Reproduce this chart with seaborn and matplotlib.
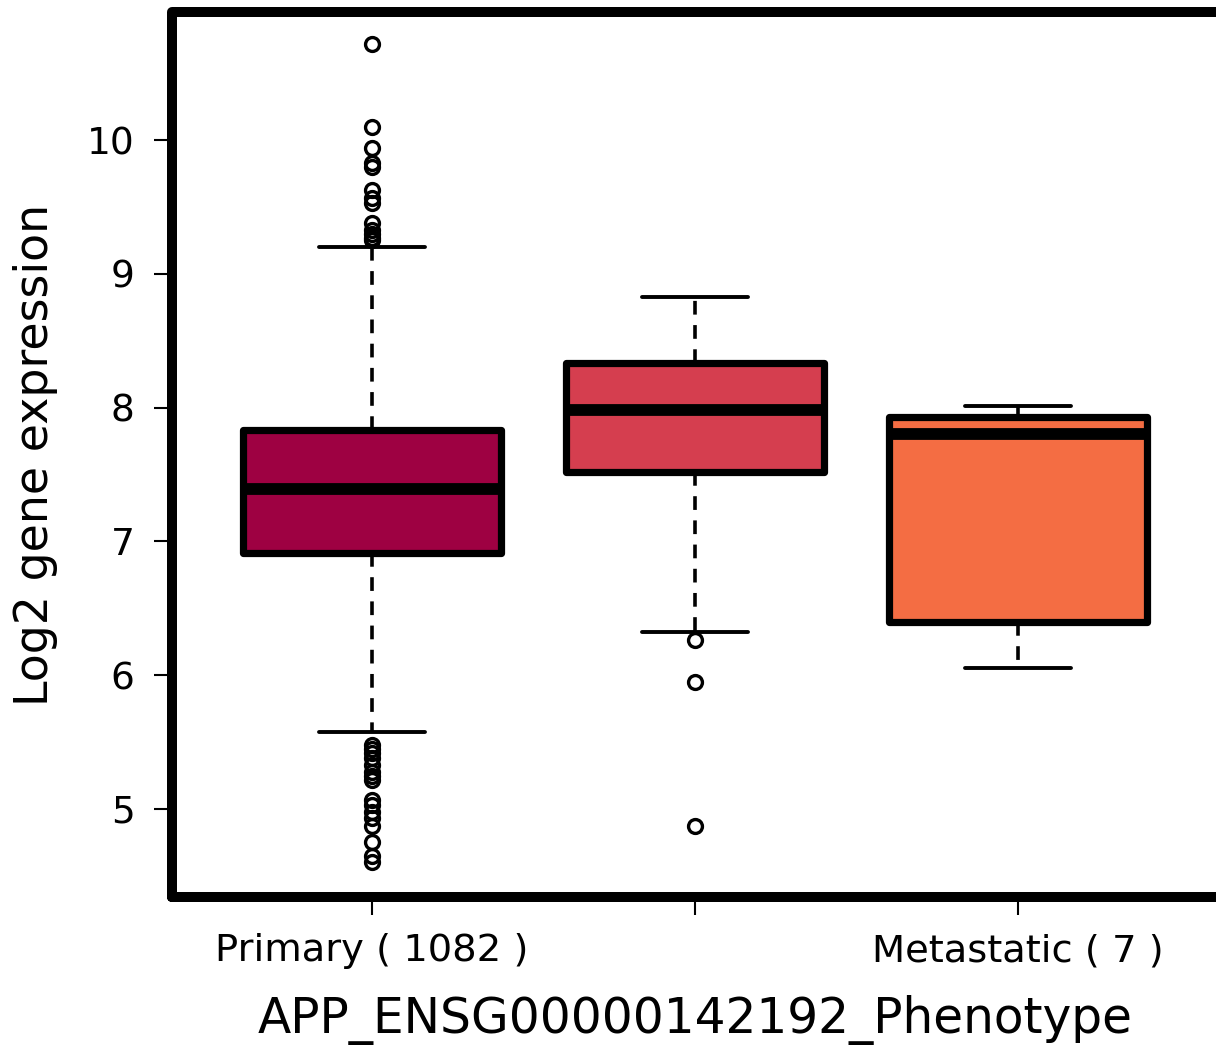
import numpy as np
import pandas as pd
import matplotlib
matplotlib.use("Agg")
import matplotlib.pyplot as plt
from matplotlib.patches import Rectangle
import seaborn as sns

# ---- data ----
categories = ["Primary", "Recurrent", "Metastatic"]
tick_labels = ["Primary ( 1082 )", "", "Metastatic ( 7 )"]
box_colors = ["#9E0142", "#D53E4F", "#F46D43"]

primary_values = [
    4.60, 4.65, 4.75, 4.87, 4.93, 4.98, 5.03, 5.07, 5.22, 5.25, 5.28, 5.33,
    5.38, 5.42, 5.45, 5.48,
    5.575,
    6.20, 6.55, 6.80,
    6.91,
    6.94, 6.97, 7.00, 7.02, 7.05, 7.07, 7.10, 7.12, 7.15, 7.17, 7.20, 7.22,
    7.25, 7.27, 7.30, 7.32, 7.34, 7.36, 7.38,
    7.39,
    7.41, 7.43, 7.45, 7.47, 7.50, 7.52, 7.54, 7.56, 7.58, 7.60, 7.62, 7.64,
    7.66, 7.68, 7.71, 7.74, 7.77, 7.79, 7.81,
    7.83,
    8.05, 8.30, 8.55, 8.75, 8.95, 9.10,
    9.20,
    9.25, 9.27, 9.30, 9.33, 9.38, 9.53, 9.57, 9.63, 9.80, 9.83, 9.94, 10.10,
    10.72,
]
recurrent_values = [
    4.87, 5.95, 6.26, 6.32, 7.20, 7.52, 7.62, 7.72, 7.82, 7.90, 7.98,
    8.05, 8.12, 8.20, 8.27, 8.33, 8.45, 8.55, 8.65, 8.75, 8.83,
]
metastatic_values = [6.05, 6.30, 6.50, 7.80, 7.90, 7.96, 8.01]

y_ticks = [5, 6, 7, 8, 9, 10]
x_title = "APP_ENSG00000142192_Phenotype"
y_title = "Log2 gene expression"

groups = [primary_values, recurrent_values, metastatic_values]
df = pd.DataFrame({
    "Phenotype": np.concatenate([[c] * len(v) for c, v in zip(categories, groups)]),
    "Expression": np.concatenate(groups),
})

# ---- style ----
sns.set_theme(style="white")
plt.rcParams["font.family"] = ["DejaVu Sans"]

fig = plt.figure(figsize=(12.16, 10.47), dpi=100)
W, H = 1216, 1047
left, right, top, bottom = 172, 1218, 12, 897
ax = fig.add_axes([left / W, (H - bottom) / H, (right - left) / W, (bottom - top) / H])

sns.boxplot(
    data=df, x="Phenotype", y="Expression", hue="Phenotype",
    order=categories, hue_order=categories, palette=box_colors,
    saturation=1, legend=False, width=0.8, linecolor="black",
    fliersize=10, ax=ax, capwidths=0.33,
    boxprops=dict(linewidth=5.2, edgecolor="black", joinstyle="round"),
    medianprops=dict(linewidth=8.5, color="black", solid_capstyle="butt"),
    whiskerprops=dict(linewidth=2.6, color="black", linestyle=(0, (3.8, 2.9))),
    capprops=dict(linewidth=2.8, color="black", solid_capstyle="round"),
    flierprops=dict(marker="o", markersize=10, markerfacecolor="none",
                    markeredgecolor="black", markeredgewidth=2.4),
)

ax.set_xlim(-0.62, 2.62)
ax.set_ylim(4.342, 10.957)
ax.set_yticks(y_ticks)
ax.set_yticklabels([str(t) for t in y_ticks])
ax.set_xticks(range(len(categories)))
ax.set_xticklabels(tick_labels)

ax.tick_params(axis="y", which="major", direction="out", length=13, width=1.5,
               color="black", labelsize=27, pad=14, left=True, labelcolor="black")
ax.tick_params(axis="x", which="major", direction="out", length=13, width=1.5,
               color="black", labelsize=27.7, pad=13, bottom=True, labelcolor="black")

for sp in ax.spines.values():
    sp.set_visible(False)
frame = Rectangle((0, 0), 1, 1, transform=ax.transAxes, fill=False,
                  edgecolor="black", linewidth=7.2, joinstyle="round",
                  capstyle="round", clip_on=False, zorder=10)
ax.add_patch(frame)

ax.set_xlabel(x_title, fontsize=35, color="black", va="center")
ax.set_ylabel(y_title, fontsize=33, color="black", va="center")
ax.xaxis.set_label_coords(0.5, (bottom - 1020) / (bottom - top))
ax.yaxis.set_label_coords((36 - left) / (right - left), 0.5)

fig.savefig("out.png", dpi=100)
